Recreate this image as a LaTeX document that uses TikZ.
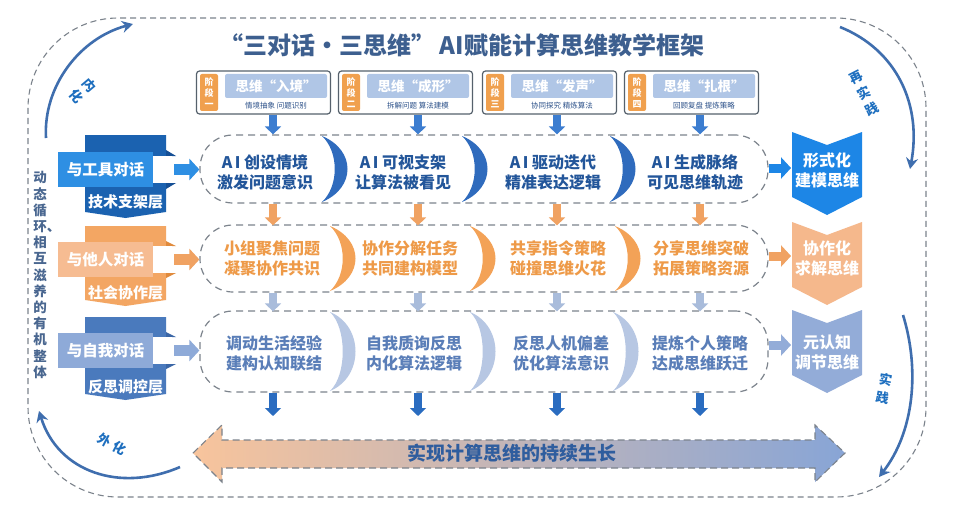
\documentclass[tikz,border=0pt]{standalone}
\usepackage{fontspec}
\setmainfont{Noto Sans CJK SC}
\usetikzlibrary{arrows.meta}
\definecolor{dashgray}{HTML}{7C838C}
\definecolor{titlec}{HTML}{3D5F8F}
\definecolor{stageln}{HTML}{56616C}
\definecolor{tabor}{HTML}{F0A04E}
\definecolor{hdrbl}{HTML}{B0C6E6}
\definecolor{subc}{HTML}{2D528A}
\definecolor{bA}{HTML}{1B62B0}
\definecolor{bB}{HTML}{2E8FE3}
\definecolor{bC}{HTML}{154F95}
\definecolor{oA}{HTML}{F3A663}
\definecolor{oB}{HTML}{F6BC92}
\definecolor{oC}{HTML}{E08A3C}
\definecolor{gA}{HTML}{4A7ABD}
\definecolor{gB}{HTML}{8EAAD8}
\definecolor{gC}{HTML}{3A66A6}
\definecolor{tA}{HTML}{23569A}
\definecolor{tB}{HTML}{EE9A48}
\definecolor{tC}{HTML}{5A7EB8}
\definecolor{crA}{HTML}{2F6BBD}
\definecolor{crB}{HTML}{F3A257}
\definecolor{crC}{HTML}{B7C7E3}
\definecolor{chvA}{HTML}{1D86E6}
\definecolor{chvB}{HTML}{F5B88C}
\definecolor{chvC}{HTML}{93ACD8}
\definecolor{cyc}{HTML}{3F6EAE}
\definecolor{cyct}{HTML}{1E6FBF}
\definecolor{vt}{HTML}{4A6790}
\definecolor{arrL}{HTML}{F8C49C}
\definecolor{arrM}{HTML}{E6E6F0}
\definecolor{arrR}{HTML}{88A5D6}
\definecolor{botc}{HTML}{2F5D9E}
\definecolor{dnA}{HTML}{3C7DD0}
\definecolor{dnB}{HTML}{F0A262}
\definecolor{dnC}{HTML}{A9BCDB}
\definecolor{dnD}{HTML}{2A6CC0}
\newcommand\mycres[4]{\fill[#4] (#1,#2) .. controls (#1+34,#2+14) and (#1+34,#3-14) .. (#1,#3) .. controls (#1+17,#3-16) and (#1+17,#2+16) .. (#1,#2) -- cycle;}
\newcommand\chevshape[2]{\fill[#2] (792,#1) -- (827,#1+13) -- (862,#1) -- (862,#1+65) -- (827,#1+83) -- (792,#1+65) -- cycle;}
\begin{document}
\begin{tikzpicture}[x=1pt,y=-1pt,
  frame/.style={draw=dashgray, dash pattern=on 6pt off 4pt, line width=1.1pt},
  rowbox/.style={draw=dashgray, dash pattern=on 7pt off 5pt, line width=1.2pt, rounded corners=33pt, inner sep=0pt, minimum width=568pt},
  celltxt/.style={font=\fontsize{16}{20}\selectfont\bfseries, align=center, inner sep=0pt},
  stagebox/.style={draw=stageln, line width=1.2pt, fill=white, rounded corners=3pt, minimum width=134pt, minimum height=43pt, inner sep=0pt},
  tabbox/.style={fill=tabor, rounded corners=2pt, minimum width=18pt, minimum height=37pt, inner sep=0pt, text=white, font=\fontsize{9}{11}\selectfont\bfseries, align=center},
  hdrbox/.style={fill=hdrbl, rounded corners=2pt, minimum width=102pt, minimum height=24pt, inner sep=0pt, text=white, font=\fontsize{13.5}{15}\selectfont\bfseries},
  subtxt/.style={text=subc, font=\fontsize{7.5}{9}\selectfont, inner sep=0pt},
  frontbox/.style={minimum width=95pt, minimum height=35pt, inner sep=0pt, text=white, font=\fontsize{15.5}{18}\selectfont\bfseries},
  backtxt/.style={text=white, font=\fontsize{15}{18}\selectfont\bfseries, inner sep=0pt},
  chvtxt/.style={text=white, font=\fontsize{16}{20}\selectfont\bfseries, align=center, inner sep=0pt},
  dn/.style={draw=#1, line width=8pt, -{Triangle[width=16pt,length=8pt]}},
  sd/.style={draw=#1, line width=11pt, -{Triangle[width=21pt,length=10pt]}},
  cycarrow/.style={draw=cyc, line width=2.6pt, -{Stealth[length=11pt,width=12pt]}},
  cyctxt/.style={text=cyct, font=\fontsize{13}{18}\selectfont\bfseries, align=center, inner sep=0pt}
]
\useasboundingbox (0,0) rectangle (960,516);
\fill[white] (0,0) rectangle (960,516);

% outer frame
\draw[frame, rounded corners=90pt] (28,18) rectangle (926,497);

% title
\node[text=titlec, font=\fontsize{24}{28}\selectfont\bfseries, inner sep=0pt] (title) at (462,45) {“三对话•三思维”\,AI赋能计算思维教学框架};

% column coordinates
\coordinate (c1) at (273,0);
\coordinate (c2) at (418,0);
\coordinate (c3) at (557,0);
\coordinate (c4) at (700,0);
\coordinate (bt) at (0,416);

% stage boxes
\foreach \i/\L/\nm/\sb/\nu in {1/196/入境/情境抽象~问题识别/一, 2/338/成形/拆解问题~算法建模/二, 3/482/发声/协同探究~精炼算法/三, 4/624/扎根/回顾复盘~提炼策略/四}{
  \node[stagebox] (s\i) at (\L+67.5,92.5) {};
  \node[tabbox] (t\i) at (\L+13,92.5) {阶\\段\\\nu};
  \node[hdrbox] (h\i) at (\L+80,86) {思维“\nm”};
  \node[subtxt] (u\i) at (\L+80,106) {\sb};
}

% rows
\node[rowbox, minimum height=68pt] (row1) at (484,169) {};
\node[rowbox, minimum height=67pt] (row2) at (484,258.5) {};
\node[rowbox, minimum height=81pt] (row3) at (484,351.5) {};

% crescents
\mycres{322}{136}{202}{crA}
\mycres{462}{136}{202}{crA}
\mycres{610}{136}{202}{crA}
\mycres{330}{226}{291}{crB}
\mycres{470}{226}{291}{crB}
\mycres{615}{226}{291}{crB}
\mycres{330}{312}{391}{crC}
\mycres{470}{312}{391}{crC}
\mycres{613}{312}{391}{crC}

% cell texts
\node[celltxt, text=tA] (r1c1) at (265,172) {A\,I 创设情境\\激发问题意识};
\node[celltxt, text=tA] (r1c2) at (403,172) {A\,I 可视支架\\让算法被看见};
\node[celltxt, text=tA] (r1c3) at (553,172) {A\,I 驱动迭代\\精准表达逻辑};
\node[celltxt, text=tA] (r1c4) at (695,172) {A\,I 生成脉络\\可见思维轨迹};
\node[celltxt, text=tB] (r2c1) at (272,258) {小组聚焦问题\\凝聚协作共识};
\node[celltxt, text=tB] (r2c2) at (410,258) {协作分解任务\\共同建构模型};
\node[celltxt, text=tB] (r2c3) at (558,258) {共享指令策略\\碰撞思维火花};
\node[celltxt, text=tB] (r2c4) at (701,258) {分享思维突破\\拓展策略资源};
\node[celltxt, text=tC] (r3c1) at (274,353) {调动生活经验\\建构认知联结};
\node[celltxt, text=tC] (r3c2) at (414,353) {自我质询反思\\内化算法逻辑};
\node[celltxt, text=tC] (r3c3) at (561,353) {反思人机偏差\\优化算法意识};
\node[celltxt, text=tC] (r3c4) at (700,353) {提炼个人策略\\达成思维跃迁};

% down arrows
\foreach \c in {1,2,3,4}{
  \draw[dn=dnA] (s\c.south -| c\c) -- (row1.north -| c\c);
  \draw[dn=dnB] (row1.south -| c\c) -- ([yshift=-1pt]row2.north -| c\c);
  \draw[dn=dnC] (row2.south -| c\c) -- ([yshift=-1pt]row3.north -| c\c);
  \draw[dn=dnD] (row3.south -| c\c) -- (bt -| c\c);
}

% left layer boxes
\fill[bA] (85,135) -- (166,135) -- (166,212) -- (125.5,218) -- (85,212) -- cycle;
\fill[bC] (166,150) -- (176,156) -- (166,156) -- cycle;
\fill[bC] (166,183) -- (176,183) -- (166,189) -- cycle;
\fill[white] (153,156) rectangle (172,183);
\node[frontbox, fill=bB] (L1) at (105.5,169.5) {与工具对话};
\node[backtxt] (B1) at (125.5,202) {技术支架层};

\fill[oA] (85,226) -- (166,226) -- (166,300) -- (125.5,306) -- (85,300) -- cycle;
\fill[oC] (166,241) -- (176,246) -- (166,246) -- cycle;
\fill[oC] (166,273) -- (176,273) -- (166,278) -- cycle;
\fill[white] (153,246) rectangle (172,273);
\node[frontbox, fill=oB] (L2) at (105.5,259.5) {与他人对话};
\node[backtxt] (B2) at (125.5,293) {社会协作层};

\fill[gA] (85,317) -- (166,317) -- (166,394) -- (125.5,400) -- (85,394) -- cycle;
\fill[gC] (166,332) -- (176,337) -- (166,337) -- cycle;
\fill[gC] (166,364) -- (176,364) -- (166,369) -- cycle;
\fill[white] (153,337) rectangle (172,364);
\node[frontbox, fill=gB] (L3) at (105.5,350.5) {与自我对话};
\node[backtxt] (B3) at (125.5,387) {反思调控层};

% side arrows into rows
\draw[sd=bB] ([xshift=21pt]L1.east) -- (L1.east -| row1.west);
\draw[sd=dnB] ([xshift=21pt]L2.east) -- (L2.east -| row2.west);
\draw[sd=gB] ([xshift=21pt]L3.east) -- (L3.east -| row3.west);

% right chevrons
\chevshape{132}{chvA}
\chevshape{222}{chvB}
\chevshape{310}{chvC}
\node[chvtxt] (R1) at (827,170) {形式化\\建模思维};
\node[chvtxt] (R2) at (827,258) {协作化\\求解思维};
\node[chvtxt] (R3) at (827,352) {元认知\\调节思维};
\coordinate (k1) at (791,168);
\coordinate (k2) at (791,256);
\coordinate (k3) at (791,345);
\draw[sd=chvA, line width=9pt] (row1.east |- k1) -- (k1);
\draw[sd=dnB, line width=9pt] (row2.east |- k2) -- (k2);
\draw[sd=chvC, line width=9pt] (row3.east |- k3) -- (k3);

% left vertical text
\node[text=vt, font=\fontsize{13.5}{16.2}\selectfont\bfseries, align=center, inner sep=0pt] (vtext) at (40,275) {动\\态\\循\\环\rlap{、}\\相\\互\\滋\\养\\的\\有\\机\\整\\体};

% cycle arrows
\coordinate (a1s) at (46,138);
\coordinate (a1e) at (133,24);
\draw[cycarrow] (a1s) .. controls (43,86) and (80,38) .. (a1e);
\node[cyctxt, rotate=-50] (lab1) at (83,91) {内\\化};

\coordinate (a2s) at (840,27);
\coordinate (a2e) at (910,169);
\draw[cycarrow] (a2s) .. controls (897,50) and (922,105) .. (a2e);
\node[cyctxt, rotate=27] (lab2) at (864,93) {再\\实\\践};

\coordinate (a3s) at (903,315);
\coordinate (a3e) at (879,477);
\draw[cycarrow] (a3s) .. controls (920,370) and (914,432) .. (a3e);
\node[cyctxt, rotate=-10] (lab3) at (884,389) {实\\践};

\coordinate (a4s) at (180,467);
\coordinate (a4e) at (39,411);
\draw[cycarrow] (a4s) .. controls (120,493) and (58,472) .. (a4e);
\node[cyctxt, rotate=-28] (lab4) at (112,444) {外\hspace{4pt}化};

% bottom double arrow
\shade[left color=arrL, middle color=arrM, right color=arrR]
  (193,453) -- (222,425) -- (222,440) -- (815,440) -- (815,425) -- (845,453) -- (815,482) -- (815,468) -- (222,468) -- (222,482) -- cycle;
\draw[draw=dashgray, dash pattern=on 7pt off 4pt, line width=1.1pt]
  (193,453) -- (222,425) -- (222,440) -- (815,440) -- (815,425) -- (845,453) -- (815,482) -- (815,468) -- (222,468) -- (222,482) -- cycle;
\node[text=botc, font=\fontsize{19}{22}\selectfont\bfseries, inner sep=0pt] (goal) at (512,453) {实现计算思维的持续生长};
\end{tikzpicture}
\end{document}
